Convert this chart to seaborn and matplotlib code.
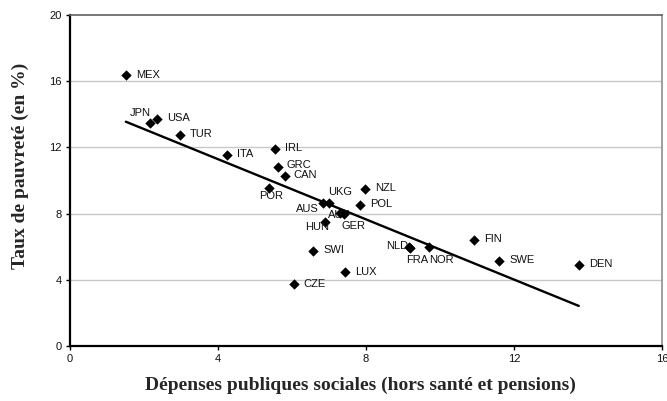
import matplotlib
matplotlib.use("Agg")
import matplotlib.pyplot as plt
import seaborn as sns
import pandas as pd
import numpy as np

countries = ["MEX", "JPN", "USA", "TUR", "ITA", "IRL", "GRC", "CAN", "POR", "UKG",
             "AUS", "AUT", "HUN", "GER", "NZL", "POL", "SWI", "LUX", "CZE", "NLD",
             "FRA", "NOR", "FIN", "SWE", "DEN"]
spending = [1.51, 2.16, 2.35, 2.96, 4.25, 5.55, 5.61, 5.80, 5.37, 7.00,
            6.85, 7.30, 6.89, 7.41, 7.97, 7.85, 6.58, 7.43, 6.05, 9.15,
            9.20, 9.69, 10.93, 11.60, 13.75]
poverty = [16.37, 13.49, 13.72, 12.73, 11.52, 11.90, 10.80, 10.29, 9.57, 8.66,
           8.66, 8.06, 7.51, 7.95, 9.49, 8.52, 5.76, 4.45, 3.75, 5.96,
           5.90, 5.97, 6.39, 5.14, 4.89]
# label offsets in pixels (dx, dy)
label_dx = [10, -20, 10, 10, 10, 10, 9, 9, -10, -1,
            -27, -12, -20, -3, 10, 10, 10, 10, 10, -22,
            -4, 1, 10, 10, 10]
label_dy = [0, 10, 1, 1, 1, 1, 2, 1, -8, 11,
            -6, -2, -5, -12, 1, 1, 1, 0, 0, 1,
            -12, -13, 1, 1, 1]
x_ticks = [0, 4, 8, 12, 16]
y_ticks = [0, 4, 8, 12, 16, 20]

df = pd.DataFrame({"country": countries, "x": spending, "y": poverty})

sns.set_style("white")
plt.rcParams["font.family"] = ["Liberation Sans", "DejaVu Sans"]

fig = plt.figure(figsize=(6.67, 4.01), dpi=100)
ax = fig.add_axes([70 / 667, 1 - 346 / 401, (662 - 70) / 667, (346 - 15) / 401])

for t in y_ticks[1:-1]:
    ax.axhline(t, color="#c8c8c8", lw=1.0, zorder=0)

sns.regplot(data=df, x="x", y="y", ax=ax, scatter=False, ci=None, truncate=True,
            line_kws=dict(color="black", lw=1.7))
sns.scatterplot(data=df, x="x", y="y", ax=ax, marker="D", color="black", s=28,
                edgecolor="black", linewidth=0, zorder=3)

for c, xv, yv, dx, dy in zip(countries, spending, poverty, label_dx, label_dy):
    ax.annotate(c, (xv, yv), xytext=(dx, dy), textcoords="offset pixels",
                ha="left", va="center", fontsize=8, color="#111111")

ax.set_xlim(0, 16)
ax.set_ylim(0, 20)
ax.set_xticks(x_ticks)
ax.set_yticks(y_ticks)
ax.tick_params(axis="both", labelsize=8, length=3, width=1, color="black", direction="out",
               left=True, bottom=True, pad=3)
for lab in ax.get_xticklabels() + ax.get_yticklabels():
    lab.set_color("#111111")

ax.spines["left"].set_color("black")
ax.spines["left"].set_linewidth(1.6)
ax.spines["bottom"].set_color("black")
ax.spines["bottom"].set_linewidth(1.6)
ax.spines["top"].set_color("#606060")
ax.spines["top"].set_linewidth(1.2)
ax.spines["right"].set_color("#909090")
ax.spines["right"].set_linewidth(1.2)

serif = ["Liberation Serif", "DejaVu Serif"]
ax.set_xlabel("Dépenses publiques sociales (hors santé et pensions)",
              family=serif, fontweight="bold", fontsize=14)
ax.set_ylabel("Taux de pauvreté (en %)",
              family=serif, fontweight="bold", fontsize=14)
ax.xaxis.label.set_va("center")
ax.yaxis.label.set_va("center")
ax.xaxis.set_label_coords((360.5 - 70) / 592, (346 - 385.5) / 331)
ax.yaxis.set_label_coords((20.5 - 70) / 592, (346 - 166) / 331)

fig.savefig("out.png", dpi=100)
